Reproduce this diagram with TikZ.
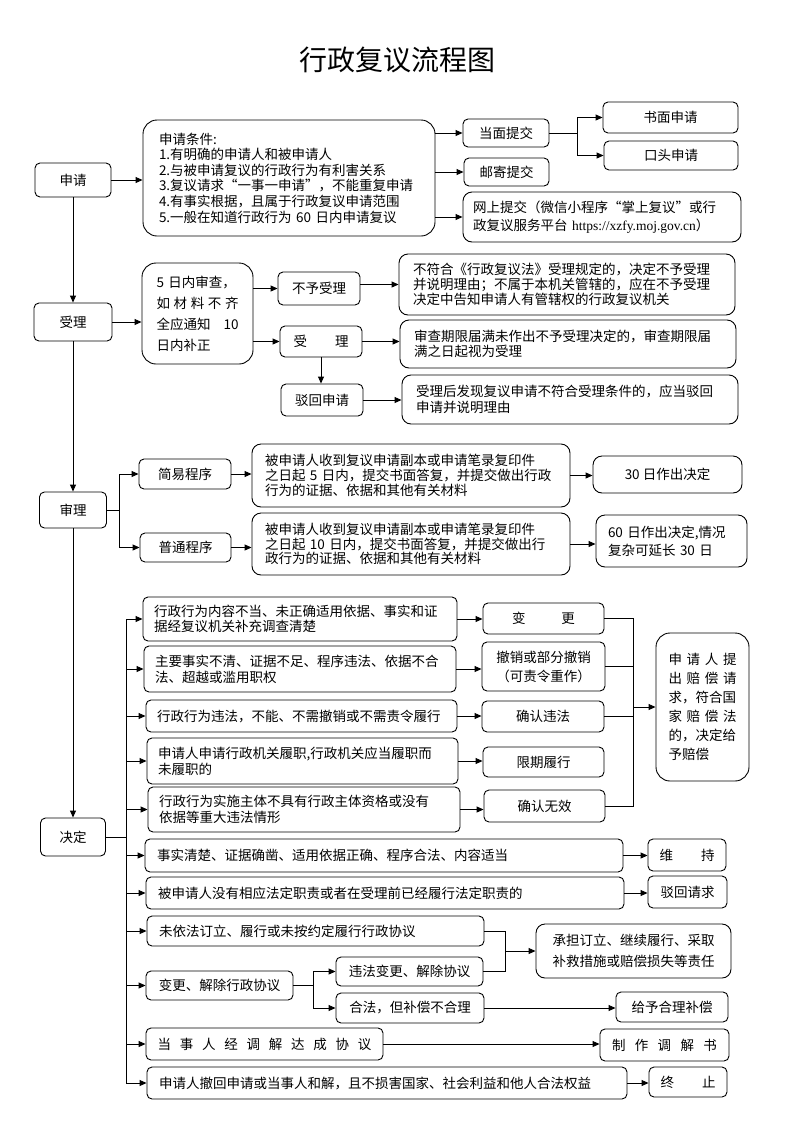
\documentclass[tikz,border=0pt]{standalone}
\usepackage{fontspec}
\setmainfont{Noto Sans CJK SC}
\newfontfamily\lat{Liberation Serif}
\usetikzlibrary{arrows.meta,calc}
\XeTeXlinebreaklocale "zh"
\XeTeXlinebreakskip=0pt plus 1pt
\newcommand\bx[7][]{%
  \pgfmathsetmacro\bxw{#4-#2}\pgfmathsetmacro\bxh{#5-#3}%
  \node[box,minimum width=\bxw pt,minimum height=\bxh pt,#1] (#6) at ({(#2+#4)/2},{(#3+#5)/2}) {#7};}
\tikzset{
  box/.style={draw, line width=0.9pt, rounded corners=5pt, fill=white, inner ysep=1pt, inner xsep=2pt,
    font=\fontsize{13.5}{15.5}\selectfont, align=center},
  big/.style={rounded corners=14pt},
  midr/.style={rounded corners=9pt},
  lft/.style={inner xsep=#1pt, /utils/exec={\pgfmathsetmacro\bxt{\bxw-2*#1}}, text width=\bxt pt, align=left},
  bs/.style={font=\fontsize{13.5}{#1}\selectfont},
  arr/.style={-{Triangle[length=7pt,width=6pt]}, line width=0.9pt},
  ln/.style={line width=0.9pt},
}
\begin{document}
\begin{tikzpicture}[x=1pt,y=-1pt]
\useasboundingbox (0,0) rectangle (793,1122);
\node[font=\fontsize{28}{30}\selectfont] (title) at (397,60) {行政复议流程图};

% ---- application
\bx{35}{163}{111}{197}{sq}{申请}
\bx[big,lft=16,bs=15.6]{143}{120}{435}{236}{cond}{申请条件:\\1.有明确的申请人和被申请人\\2.与被申请复议的行政行为有利害关系\\3.复议请求“一事一申请”，不能重复申请\\4.有事实根据，且属于行政复议申请范围\\5.一般在知道行政行为 60 日内申请复议}
\bx{463}{119}{549}{147}{dm}{当面提交}
\bx{464}{158}{549}{186}{yj}{邮寄提交}
\bx[midr,lft=10,bs=18]{463}{192}{741}{242}{ws}{网上提交（微信小程序“掌上复议”或行\\政复议服务平台 {\lat https://xzfy.moj.gov.cn}）}
\bx{603}{102}{738}{133}{sm}{书面申请}
\bx{604}{141}{738}{170}{kt}{口头申请}

% ---- acceptance
\bx{34}{303}{112}{341}{sl}{受理}
\bx[big,text width=82pt,align=left,bs=21]{142}{263}{253}{364}{rev}{5 日内审查，\\\makebox[82pt][s]{如\hfill 材\hfill 料\hfill 不\hfill 齐}\\\makebox[82pt][s]{全应通知\hfill 10}\\日内补正}
\bx{278}{272}{360}{305}{bysl}{不予受理}
\bx{280}{326}{362}{357}{sl3}{\makebox[55pt][s]{受\hfill 理}}
\bx{281}{384}{363}{416}{bh}{驳回申请}
\bx[midr,lft=14,bs=15]{399}{254}{735}{315}{r1}{不符合《行政复议法》受理规定的，决定不予受理\\并说明理由；不属于本机关管辖的，应在不予受理\\决定中告知申请人有管辖权的行政复议机关}
\bx[midr,lft=14,bs=15.5]{400}{320}{736}{368}{r2}{审查期限届满未作出不予受理决定的，审查期限届\\满之日起视为受理}
\bx[midr,lft=14,bs=15.5]{402}{375}{738}{424}{r3}{受理后发现复议申请不符合受理条件的，应当驳回\\申请并说明理由}

% ---- review
\bx{39.5}{492}{106.5}{528}{sl2}{审理}
\bx{139}{459}{231}{489}{jy}{简易程序}
\bx{140}{533}{231}{562}{pt}{普通程序}
\bx[midr,lft=13,bs=14.8]{252}{444}{570}{507}{xq1}{被申请人收到复议申请副本或申请笔录复印件\\之日起 5 日内，提交书面答复，并提交做出行政\\行为的证据、依据和其他有关材料}
\bx[midr,lft=13,bs=14.8]{252}{513}{570}{575}{xq2}{被申请人收到复议申请副本或申请笔录复印件\\之日起 10 日内，提交书面答复，并提交做出行\\政行为的证据、依据和其他有关材料}
\bx[midr]{593}{456}{742}{493}{r30}{30 日作出决定}
\bx[midr,lft=12,bs=18]{596}{515}{747}{567}{r60}{60 日作出决定,情况\\复杂可延长 30 日}

% ---- decision
\bx{40.5}{818}{105.5}{856}{jd}{决定}
\bx[lft=11,bs=15.7]{143}{597}{457}{641}{d1}{行政行为内容不当、未正确适用依据、事实和证\\据经复议机关补充调查清楚}
\bx[lft=11,bs=15.7]{144}{646}{456}{692}{d2}{主要事实不清、证据不足、程序违法、依据不合\\法、超越或滥用职权}
\bx[lft=11]{146}{700}{457}{732}{d3}{行政行为违法，不能、不需撤销或不需责令履行}
\bx[lft=11,bs=15.7]{147}{738}{458}{784}{d4}{申请人申请行政机关履职,行政机关应当履职而\\未履职的}
\bx[lft=11,bs=15.7]{148}{787}{460}{832}{d5}{行政行为实施主体不具有行政主体资格或没有\\依据等重大违法情形}
\bx{483}{603}{604}{634}{bg}{\makebox[63pt][s]{变\hfill 更}}
\bx[bs=19]{482}{642}{605}{691}{cx}{撤销或部分撤销\\（可责令重作）}
\bx{482}{701}{604}{732}{qr}{确认违法}
\bx{483}{747}{604}{777}{xq}{限期履行}
\bx{484}{790}{605}{822}{qw}{确认无效}
\bx[big,text width=68pt,align=left,bs=19]{656}{633}{749}{781}{pc}{\makebox[68pt][s]{申\hfill 请\hfill 人\hfill 提}\\\makebox[68pt][s]{出\hfill 赔\hfill 偿\hfill 请}\\求，符合国\\\makebox[68pt][s]{家\hfill 赔\hfill 偿\hfill 法}\\的，决定给\\予赔偿}

\bx[lft=12]{145}{839}{623}{872}{d6}{事实清楚、证据确凿、适用依据正确、程序合法、内容适当}
\bx{648}{839}{726}{871}{wc}{\makebox[55pt][s]{维\hfill 持}}
\bx[lft=12]{146}{877}{624}{909}{d7}{被申请人没有相应法定职责或者在受理前已经履行法定职责的}
\bx{648}{876}{727}{908}{bq}{驳回请求}
\bx[lft=12]{147}{916}{484}{946}{d8}{未依法订立、履行或未按约定履行行政协议}
\bx{146}{971}{293}{1000}{d9}{变更、解除行政协议}
\bx{336}{957}{483}{986}{wf}{违法变更、解除协议}
\bx{336}{993}{484}{1023}{hf}{合法，但补偿不合理}
\bx[midr,bs=21]{536}{924}{731}{978}{cd}{承担订立、继续履行、采取\\补救措施或赔偿损失等责任}
\bx{616}{992}{728}{1022}{gy}{给予合理补偿}
\bx{146}{1028}{383}{1060}{d10}{\makebox[214pt][s]{当\hfill 事\hfill 人\hfill 经\hfill 调\hfill 解\hfill 达\hfill 成\hfill 协\hfill 议}}
\bx{600}{1029}{729}{1061}{zz}{\makebox[105pt][s]{制\hfill 作\hfill 调\hfill 解\hfill 书}}
\bx[lft=12]{147}{1067}{627}{1099}{d11}{申请人撤回申请或当事人和解，且不损害国家、社会利益和他人合法权益}
\bx{649}{1067}{727}{1097}{zt}{\makebox[55pt][s]{终\hfill 止}}

% ---- connectors: application
\draw[arr] (sq.east) -- (sq.east -| cond.west);
\draw[arr] (cond.east |- dm.west) -- (dm.west);
\draw[arr] (cond.east |- yj.west) -- (yj.west);
\draw[arr] (cond.east |- ws.west) -- (ws.west);
\coordinate (b1) at (577,133);
\draw[ln] (dm.east) -- (dm.east -| b1);
\draw[arr] (dm.east -| b1) |- (sm.west);
\draw[arr] (dm.east -| b1) |- (kt.west);

% acceptance
\draw[arr] (sq.south) -- (sl.north);
\draw[arr] (sl.east) -- (sl.east -| rev.west);
\draw[arr] (rev.east |- bysl.west) -- (bysl.west);
\draw[arr] (rev.east |- sl3.west) -- (sl3.west);
\draw[arr] (sl3.south) -- (sl3.south |- bh.north);
\draw[arr] (bysl.east |- r1.west) -- (r1.west);
\draw[arr] (sl3.east) -- (sl3.east -| r2.west);
\draw[arr] (bh.east) -- (bh.east -| r3.west);

% review
\draw[arr] (sl.south) -- (sl2.north);
\coordinate (b2) at (119,510);
\draw[ln] (sl2.east) -- (sl2.east -| b2);
\draw[arr] (sl2.east -| b2) |- (jy.west);
\draw[arr] (sl2.east -| b2) |- (pt.west);
\draw[arr] (jy.east) -- (jy.east -| xq1.west);
\draw[arr] (pt.east) -- (pt.east -| xq2.west);
\draw[arr] (xq1.east) -- (xq1.east -| r30.west);
\draw[arr] (xq2.east) -- (xq2.east -| r60.west);

% decision
\draw[arr] (sl2.south) -- (jd.north);
\coordinate (bus) at (126,837);
\draw[ln] (jd.east) -- (jd.east -| bus);
\draw[ln] (bus |- d1.west) -- (bus |- d11.west);
\foreach \n in {d1,d2,d3,d4,d5,d6,d7,d8,d9,d10,d11} \draw[arr] (bus |- \n.west) -- (\n.west);
\draw[arr] (d1.east) -- (d1.east -| bg.west);
\draw[arr] (d2.east) -- (d2.east -| cx.west);
\draw[arr] (d3.east) -- (d3.east -| qr.west);
\draw[arr] (d4.east) -- (d4.east -| xq.west);
\draw[arr] (d5.east) -- (d5.east -| qw.west);
\coordinate (br) at (633,707);
\draw[ln] (bg.east) -- (bg.east -| br) -- (qw.east -| br) -- (qw.east);
\draw[ln] (cx.east) -- (cx.east -| br);
\draw[ln] (qr.east) -- (qr.east -| br);
\draw[arr] (br |- pc.west) -- (pc.west);
\draw[arr] (d6.east) -- (d6.east -| wc.west);
\draw[arr] (d7.east) -- (d7.east -| bq.west);
\coordinate (br2) at (505,950);
\draw[ln] (d8.east) -- (d8.east -| br2) -- (wf.east -| br2) -- (wf.east);
\draw[arr] (br2 |- cd.west) -- (cd.west);
\coordinate (br3) at (313,985);
\draw[ln] (d9.east) -- (d9.east -| br3);
\draw[arr] (d9.east -| br3) |- (wf.west);
\draw[arr] (d9.east -| br3) |- (hf.west);
\draw[arr] (hf.east) -- (hf.east -| gy.west);
\draw[arr] (d10.east) -- (d10.east -| zz.west);
\draw[arr] (d11.east) -- (d11.east -| zt.west);
\end{tikzpicture}
\end{document}
